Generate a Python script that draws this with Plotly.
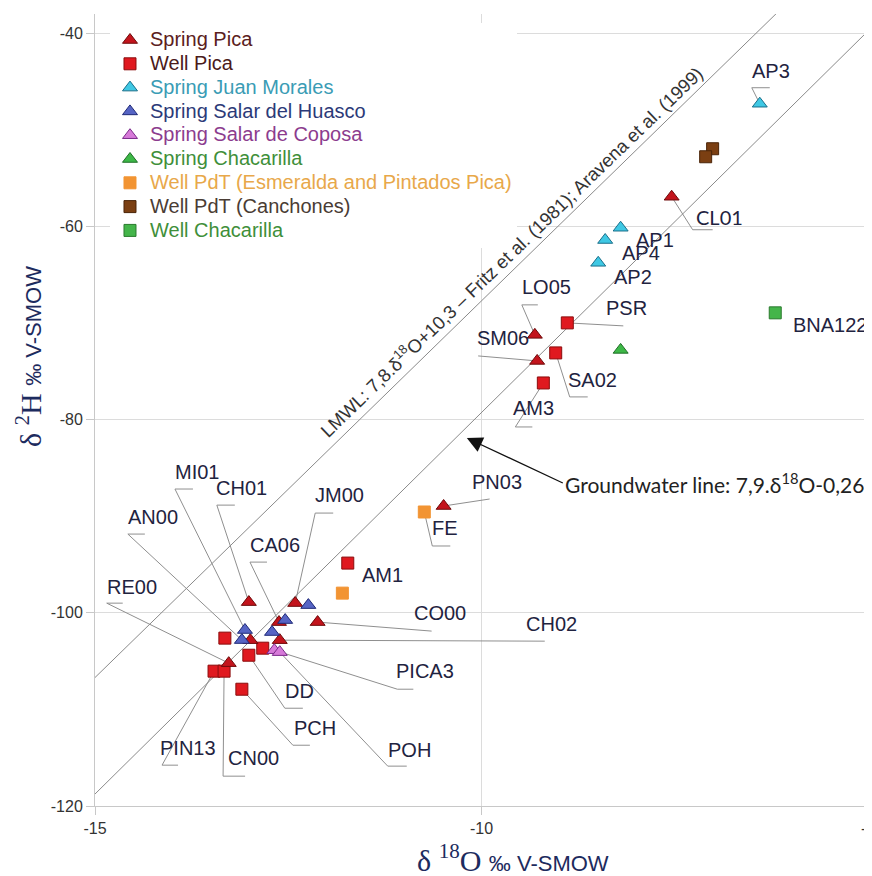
import plotly.graph_objects as go

# ---------------- data ----------------
spring_pica_x = [-7.54, -9.31, -9.28, -10.49, -13.01, -12.41, -12.12, -12.62, -12.61, -12.99, -13.27]
spring_pica_y = [-56.92, -71.22, -73.92, -88.94, -98.89, -98.99, -100.96, -100.96, -102.83, -102.83, -105.21]
spring_pica_lab = ["CL01", "LO05", "SM06", "PN03", "CH01", "JM00", "CO00", "CA06", "CH02", "", "RE00"]

well_pica_x = [-8.89, -9.04, -9.20, -11.73, -13.32, -13.01, -12.83, -13.46, -13.33, -13.10]
well_pica_y = [-69.98, -73.09, -76.20, -94.85, -102.62, -104.39, -103.66, -106.04, -106.04, -107.91]
well_pica_lab = ["PSR", "SA02", "AM3", "AM1", "", "DD", "", "PIN13", "CN00", "PCH"]

juan_morales_x = [-6.40, -8.20, -8.40, -8.49]
juan_morales_y = [-47.29, -60.13, -61.40, -63.76]
juan_morales_lab = ["AP3", "AP1", "AP4", "AP2"]

huasco_x = [-12.24, -12.54, -12.71, -13.06, -13.10]
huasco_y = [-99.20, -100.75, -101.99, -101.78, -102.82]
huasco_lab = ["", "", "", "MI01", "AN00"]

coposa_x = [-12.68, -12.61]
coposa_y = [-103.87, -104.07]
coposa_lab = ["PICA3", "POH"]

spring_chac_x = [-8.20]
spring_chac_y = [-72.78]
spring_chac_lab = [""]

esmeralda_x = [-10.74, -11.80]
esmeralda_y = [-89.56, -97.96]
esmeralda_lab = ["FE", ""]

canchones_x = [-7.01, -7.10]
canchones_y = [-51.95, -52.78]
canchones_lab = ["", ""]

well_chac_x = [-6.20]
well_chac_y = [-68.94]
well_chac_lab = ["BNA122"]

# reference lines (values on the lines given by the chart's equations)
lmwl_x = [-15.0, -6.0]
lmwl_y = [-106.7, -36.5]
gw_x = [-15.0, -5.0]
gw_y = [-118.76, -39.76]

x_ticks = [-15, -10, -5]
x_tick_text = ["-15", "-10", "-5"]
y_ticks = [-120, -100, -80, -60, -40]
y_tick_text = ["-120", "-100", "-80", "-60", "-40"]

# ---------------- styling ----------------
SANS = "Liberation Sans"
series = [
    # name, x, y, labels, symbol, size, fill, edge, legend text colour, legend rank
    ("Well Pica", well_pica_x, well_pica_y, well_pica_lab, "square", 12, "#e0191f", "#8b0d0d", "#4b1a1a", 2),
    ("Spring Pica", spring_pica_x, spring_pica_y, spring_pica_lab, "triangle-up", 13, "#c3141c", "#6e0a0a", "#5b2020", 1),
    ("Spring Juan Morales", juan_morales_x, juan_morales_y, juan_morales_lab, "triangle-up", 13, "#3fc8e4", "#1b6f8a", "#3a9cb5", 3),
    ("Spring Salar del Huasco", huasco_x, huasco_y, huasco_lab, "triangle-up", 13, "#5664c4", "#1f2a78", "#2c3a78", 4),
    ("Spring Salar de Coposa", coposa_x, coposa_y, coposa_lab, "triangle-up", 13, "#d77ad9", "#7a2a8a", "#8c3c8e", 5),
    ("Spring Chacarilla", spring_chac_x, spring_chac_y, spring_chac_lab, "triangle-up", 13, "#3db847", "#1f6e26", "#3f8f3a", 6),
    ("Well PdT (Esmeralda and Pintados Pica)", esmeralda_x, esmeralda_y, esmeralda_lab, "square", 12, "#f29433", "#f29433", "#e8a84a", 7),
    ("Well PdT (Canchones)", canchones_x, canchones_y, canchones_lab, "square", 12, "#7b3f12", "#4a2408", "#4a3c34", 8),
    ("Well Chacarilla", well_chac_x, well_chac_y, well_chac_lab, "square", 12, "#44b54a", "#2a7a2e", "#3f8f3a", 9),
]

# label geometry in pixels relative to its point (y down):
# (elbow dx, elbow dy, underline length, text dx, text dy); elbow None = no leader
label_geom = {
    "AP3": (-8, -16, 18, 11, -33),
    "CL01": (21, 33, 20, 48, 20),
    "AP1": (None, None, 0, 34, 12),
    "AP4": (None, None, 0, 36, 13),
    "AP2": (None, None, 0, 35, 14),
    "LO05": (-13, -30, 16, 12, -48),
    "PSR": (56, 3, 0, 59, -15),
    "SM06": (-59, -5, 0, -34, -23),
    "SA02": (14, 44, 18, 37, 27),
    "AM3": (-28, 44, 17, -10, 25),
    "PN03": (46, -7, 0, 53, -24),
    "FE": (8, 34, 18, 21, 16),
    "BNA122": (None, None, 0, 55, 12),
    "AM1": (None, None, 0, 35, 12),
    "JM00": (20, -90, 18, 44, -108),
    "CA06": (-29, -60, 17, -4, -77),
    "CH01": (-32, -97, 18, -7, -114),
    "MI01": (-70, -141, 18, -48, -158),
    "AN00": (-114, -106, 17, -89, -123),
    "RE00": (-122, -60, 16, -97, -76),
    "CO00": (114, 9, 0, 122, -9),
    "CH02": (265, 1, 0, 272, -16),
    "PICA3": (123, 39, 16, 151, 21),
    "POH": (108, 114, 19, 130, 98),
    "DD": (36, 53, 18, 51, 36),
    "PCH": (51, 56, 17, 73, 39),
    "PIN13": (-52, 94, 16, -26, 77),
    "CN00": (-1, 105, 22, 29, 87),
}

LEADER = "#8f8f8f"
LABEL_COLOR = "#1f2340"

fig = go.Figure()

# reference lines
fig.add_trace(go.Scatter(x=lmwl_x, y=lmwl_y, mode="lines", line=dict(color="#8a8a8a", width=1),
                         showlegend=False, hoverinfo="skip"))
fig.add_trace(go.Scatter(x=gw_x, y=gw_y, mode="lines", line=dict(color="#8a8a8a", width=1),
                         showlegend=False, hoverinfo="skip"))

annotations = []
shapes = []
for name, xs, ys, labs, sym, size, fill, edge, tcol, rank in series:
    fig.add_trace(go.Scatter(
        x=xs, y=ys, mode="markers", name=f"<span style='color:{tcol};font-size:20px'>{name}</span>",
        legendrank=rank,
        marker=dict(symbol=sym, size=size, color=fill, line=dict(color=edge, width=1)),
    ))
    for xv, yv, lab in zip(xs, ys, labs):
        if not lab:
            continue
        ex, ey, ul, tx, ty = label_geom[lab]
        if ex is not None:
            path = f"M0,0 L{ex},{-ey}"
            if ul:
                path += f" L{ex + ul},{-ey}"
            shapes.append(dict(type="path", xref="x", yref="y", xsizemode="pixel", ysizemode="pixel",
                               xanchor=xv, yanchor=yv, path=path, layer="between",
                               line=dict(color=LEADER, width=1)))
        fam = "Lato" if lab == "CL01" else SANS
        annotations.append(dict(x=xv, y=yv, xref="x", yref="y", text=lab, showarrow=False,
                                xshift=tx, yshift=-ty,
                                font=dict(family=fam, size=20, color=LABEL_COLOR)))

# LMWL label along the line
annotations.append(dict(x=-9.62, y=-62.5, xref="x", yref="y", showarrow=False, textangle=-44,
                        text="LMWL: 7,8.δ<sup>18</sup>O+10,3 – Fritz et al. (1981); Aravena et al. (1999)",
                        font=dict(family=SANS, size=18.5, color="#333333")))
# Groundwater line arrow + text
annotations.append(dict(x=-10.19, y=-81.9, xref="x", yref="y", showarrow=True,
                        text="Groundwater line: 7,9.δ<sup>18</sup>O-0,26", xanchor="left",
                        arrowhead=2, arrowsize=2.4, arrowwidth=1.3, arrowcolor="#111111",
                        standoff=0, ax=96, ay=45,
                        font=dict(family="Lato", size=21, color="#222222")))

# axis titles
TITLE_COL = "#1d2b5e"
annotations.append(dict(x=0.541, y=-0.092, xref="paper", yref="paper", showarrow=False,
                        text=f"δ <sup>18</sup>O <span style='font-family:{SANS};font-size:22px'>‰ V-SMOW</span>",
                        font=dict(family="Liberation Serif", size=30, color=TITLE_COL)))
annotations.append(dict(x=-0.1126, y=0.568, xref="paper", yref="paper", showarrow=False, textangle=-90,
                        text=f"δ <sup>2</sup>H <span style='font-family:{SANS};font-size:22px'>‰ V-SMOW</span>",
                        font=dict(family="Liberation Serif", size=30, color=TITLE_COL)))

axis_common = dict(showgrid=True, gridcolor="#dcdcdc", gridwidth=1, zeroline=False,
                   showline=True, linecolor="#c8c8c8", linewidth=1,
                   ticks="outside", ticklen=8, tickcolor="#c8c8c8", automargin=False,
                   ticklabeloverflow="allow",
                   tickfont=dict(family=SANS, size=16, color="#333333"))

# the page body adds an 8px offset, so the figure is 8px smaller on each axis
fig.update_layout(
    width=864, height=868,
    margin=dict(l=87, r=4, t=6, b=70, autoexpand=False),
    paper_bgcolor="white", plot_bgcolor="white",
    xaxis=dict(range=[-15, -5], tickvals=x_ticks, ticktext=x_tick_text, **axis_common),
    yaxis=dict(range=[-120, -38], tickvals=y_ticks, ticktext=y_tick_text, **axis_common),
    legend=dict(x=0.0194, y=0.9885, xanchor="left", yanchor="top",
                bgcolor="white", borderwidth=0, tracegroupgap=0,
                font=dict(family=SANS, size=16, color="#333333")),
    annotations=annotations,
    shapes=shapes,
    showlegend=True,
)

fig.write_html("out.html")
